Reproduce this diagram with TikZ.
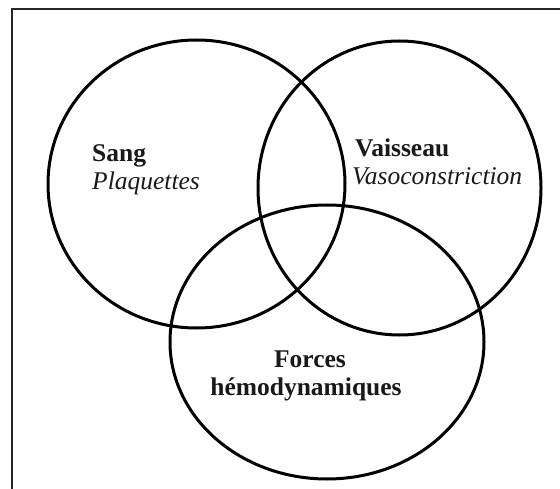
\documentclass[tikz,border=0pt]{standalone}
\usepackage{fontspec}
\setmainfont{Liberation Serif}
\begin{document}
\begin{tikzpicture}[x=1pt,y=-1pt,
  ring/.style={draw=black,line width=3pt},
  lbl/.style={inner sep=0pt,font=\fontsize{25.5pt}{28pt}\selectfont,text=black!90}]
\useasboundingbox (0,0) rectangle (560,489);
\clip (0,0) rectangle (560,489);
\fill[white] (0,0) rectangle (560,489);
\draw[line width=2pt,draw=black!85] (12,9) rectangle (580,510);
\draw[ring] (196.5,184) ellipse [x radius=148.5, y radius=144];
\draw[ring] (399.5,188) ellipse [x radius=141.5, y radius=147];
\draw[ring] (327,342) ellipse [x radius=157, y radius=137];
\node[lbl,anchor=base west] (sang) at (92,162) {\textbf{Sang}};
\node[lbl,anchor=base west] (plaq) at (92,190) {\textit{Plaquettes}};
\node[lbl,anchor=base west] (vais) at (355,157) {\textbf{Vaisseau}};
\node[lbl,anchor=base west] (vaso) at (352,185) {\textit{Vasoconstriction}};
\node[lbl,anchor=base] (forc) at (310,367) {\textbf{Forces}};
\node[lbl,anchor=base] (hemo) at (306,395) {\textbf{hémodynamiques}};
\end{tikzpicture}
\end{document}
